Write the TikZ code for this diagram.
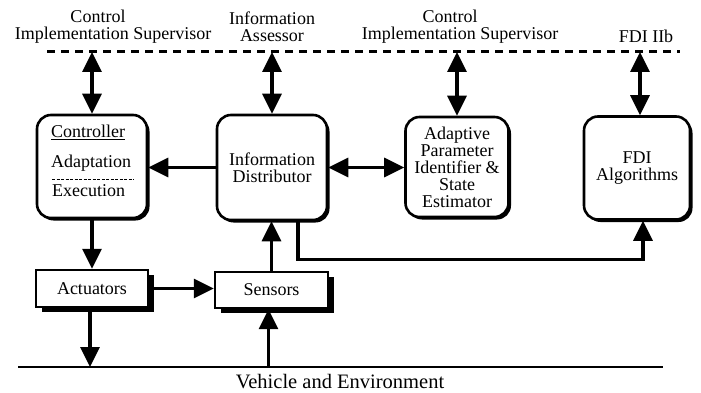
\documentclass[tikz,border=0pt]{standalone}
\usepackage{fontspec}
\setmainfont{Liberation Serif}
\usetikzlibrary{arrows.meta,shadows}
\begin{document}
\begin{tikzpicture}[x=1pt,y=-1pt,
  font=\fontsize{18pt}{17pt}\selectfont,
  conn/.style={line width=3.2pt},
  arr/.style={conn,-{Triangle[length=20pt,width=19pt]}},
  darr/.style={conn,{Triangle[length=20pt,width=19pt]}-{Triangle[length=20pt,width=19pt]}},
  rbox/.style={draw,line width=2.6pt,rounded corners=14pt,fill=white,inner sep=2pt,align=center,
     drop shadow={shadow xshift=2.5pt,shadow yshift=-2.5pt,opacity=1,fill=black}},
  sbox/.style={draw,line width=2.4pt,fill=white,align=center,
     drop shadow={shadow xshift=6pt,shadow yshift=-5pt,opacity=1,fill=black}},
  lbl/.style={align=center,inner sep=0pt},
  txt/.style={anchor=west,inner sep=0pt}
]
\useasboundingbox (0,0) rectangle (701,393);

% top bus
\coordinate (dl) at (47,52);
\coordinate (dr) at (680,52);
\draw[line width=3pt, dash pattern=on 8pt off 6pt] (dl) -- (dr);

\node[lbl] (t1) at (113,27) {\hspace*{-30pt}Control\\Implementation Supervisor};
\node[lbl] (t2) at (272,27) {Information\\Assessor};
\node[lbl] (t3) at (460,27) {\hspace*{-20pt}Control\\Implementation Supervisor};
\node[lbl] (t4) at (646,36) {FDI IIb};

% boxes
\node[rbox, minimum width=110, minimum height=103] (ctrl) at (92,166.5) {};
\node[rbox, minimum width=110, minimum height=105] (info) at (272,167.5) {Information\\Distributor};
\node[rbox, minimum width=103, minimum height=100] (apise) at (457,167) {Adaptive\\Parameter\\Identifier \&\\State\\Estimator};
\node[rbox, minimum width=106, minimum height=103] (fdi) at (637,168) {FDI\\Algorithms};

\node[sbox, minimum width=112, minimum height=37] (act) at (92,288.5) {Actuators};
\node[sbox, minimum width=113, minimum height=36] (sens) at (271.5,290) {Sensors};

% controller contents
\node[txt] (cl) at (51,132) {\underline{Controller}};
\node[txt] (ad) at (51,163) {Adaptation};
\draw[line width=0.8pt, dash pattern=on 3pt off 1.5pt] (52,179) -- (134,179);
\node[txt] (ex) at (52,191) {Execution};

% connectors to the bus
\draw[darr] (ctrl.north |- dl) -- (ctrl.north);
\draw[darr] (info.north |- dl) -- (info.north);
\draw[darr] (apise.north |- dl) -- (apise.north);
\draw[darr] ([xshift=3]fdi.north |- dl) -- ([xshift=3]fdi.north);

% internal connectors
\draw[arr] (info.west) -- (info.west -| ctrl.east);
\draw[darr] (info.east) -- (info.east -| apise.west);
\draw[arr] ([xshift=26]info.south) -- ++(0,38) -| ([xshift=6]fdi.south);
\draw[arr] (ctrl.south) -- (ctrl.south |- act.north);
\draw[arr] (act.east) -- (act.east -| sens.west);
\draw[arr] (sens.north) -- (sens.north |- info.south);

% vehicle line
\coordinate (bl) at (18,367);
\coordinate (br) at (663,367);
\draw[line width=2.8pt] (bl) -- (br);
\draw[arr] ([xshift=-2]act.south) -- ([xshift=-2]act.south |- bl);
\draw[arr] ([xshift=-3]sens.south |- bl) -- ([xshift=-3]sens.south);
\node[font=\fontsize{20.5pt}{20pt}\selectfont] (veh) at (340,382) {Vehicle and Environment};
\end{tikzpicture}
\end{document}
